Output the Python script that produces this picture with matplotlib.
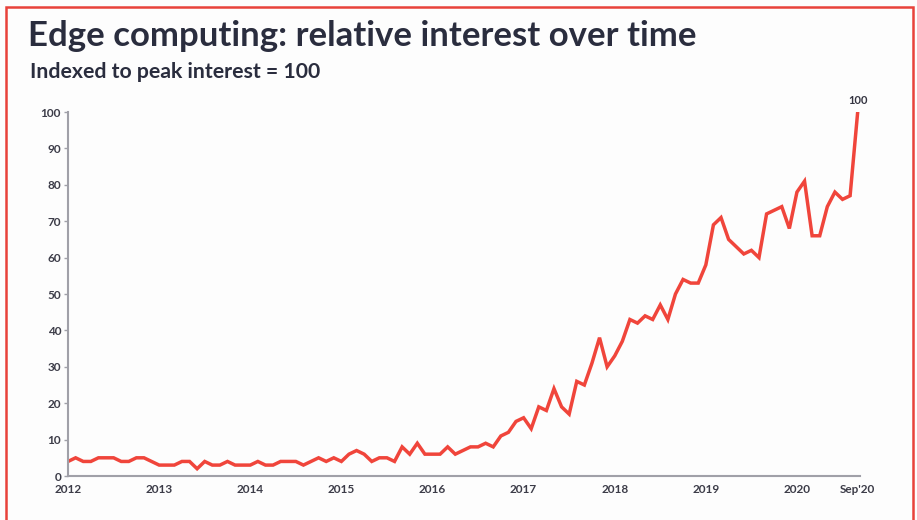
import matplotlib.pyplot as plt
from matplotlib.patches import Rectangle

# monthly interest, Jan 2012 .. Sep 2020
interest = [
    4, 5, 4, 4, 5, 5, 5, 4, 4, 5, 5, 4,        # 2012
    3, 3, 3, 4, 4, 2, 4, 3, 3, 4, 3, 3,        # 2013
    3, 4, 3, 3, 4, 4, 4, 3, 4, 5, 4, 5,        # 2014
    4, 6, 7, 6, 4, 5, 5, 4, 8, 6, 9, 6,        # 2015
    6, 6, 8, 6, 7, 8, 8, 9, 8, 11, 12, 15,     # 2016
    16, 13, 19, 18, 24, 19, 17, 26, 25, 31, 38, 30,  # 2017
    33, 37, 43, 42, 44, 43, 47, 43, 50, 54, 53, 53,  # 2018
    58, 69, 71, 65, 63, 61, 62, 60, 72, 73, 74, 68,  # 2019
    78, 81, 66, 66, 74, 78, 76, 77, 100,             # 2020
]
months = list(range(len(interest)))
tick_pos = [0, 12, 24, 36, 48, 60, 72, 84, 96, 104]
tick_labels = ['2012', '2013', '2014', '2015', '2016', '2017', '2018', '2019', '2020', "Sep'20"]

plt.rcParams['font.family'] = ['Lato', 'DejaVu Sans']

fig = plt.figure(figsize=(9.17, 5.2), dpi=100)
fig.patch.set_facecolor('#fdfdfd')
ax = fig.add_axes([0.0742, 0.0846, 0.8636, 0.70])
ax.set_facecolor('#fdfdfd')

ax.plot(months, interest, color='#f0453b', linewidth=2.5, solid_joinstyle='miter')
ax.annotate('100', (months[-1], interest[-1]), xytext=(0, 4), textcoords='offset points',
            ha='center', va='bottom', fontsize=8, fontweight='bold', color='#333340')

ax.set_xlim(0, 104.3)
ax.set_ylim(0, 100)
ax.set_yticks(range(0, 101, 10))
ax.set_xticks(tick_pos)
ax.set_xticklabels(tick_labels)

for s in ['top', 'right']:
    ax.spines[s].set_visible(False)
for s in ['left', 'bottom']:
    ax.spines[s].set_color('#a0a0a8')
    ax.spines[s].set_linewidth(1.5)

ax.tick_params(axis='y', length=3, width=1, color='#a0a0a8', pad=2, labelsize=8.5, labelcolor='#3c3c48')
ax.tick_params(axis='x', length=0, pad=6, labelsize=8.5, labelcolor='#3c3c48')
for lab in ax.get_xticklabels() + ax.get_yticklabels():
    lab.set_fontweight('bold')

fig.text(0.031, 0.930, 'Edge computing: relative interest over time', fontsize=25,
         fontweight='bold', color='#2a2d3e', va='center', ha='left')
fig.text(0.033, 0.861, 'Indexed to peak interest = 100', fontsize=15.3,
         fontweight='bold', color='#2a2d3e', va='center', ha='left')

# red frame around the slide
fig.patches.append(Rectangle((0.006, -0.05), 0.990, 1.037, transform=fig.transFigure,
                             fill=False, edgecolor='#e8423a', linewidth=1.8))

fig.savefig('out.png', dpi=100, facecolor=fig.get_facecolor())
